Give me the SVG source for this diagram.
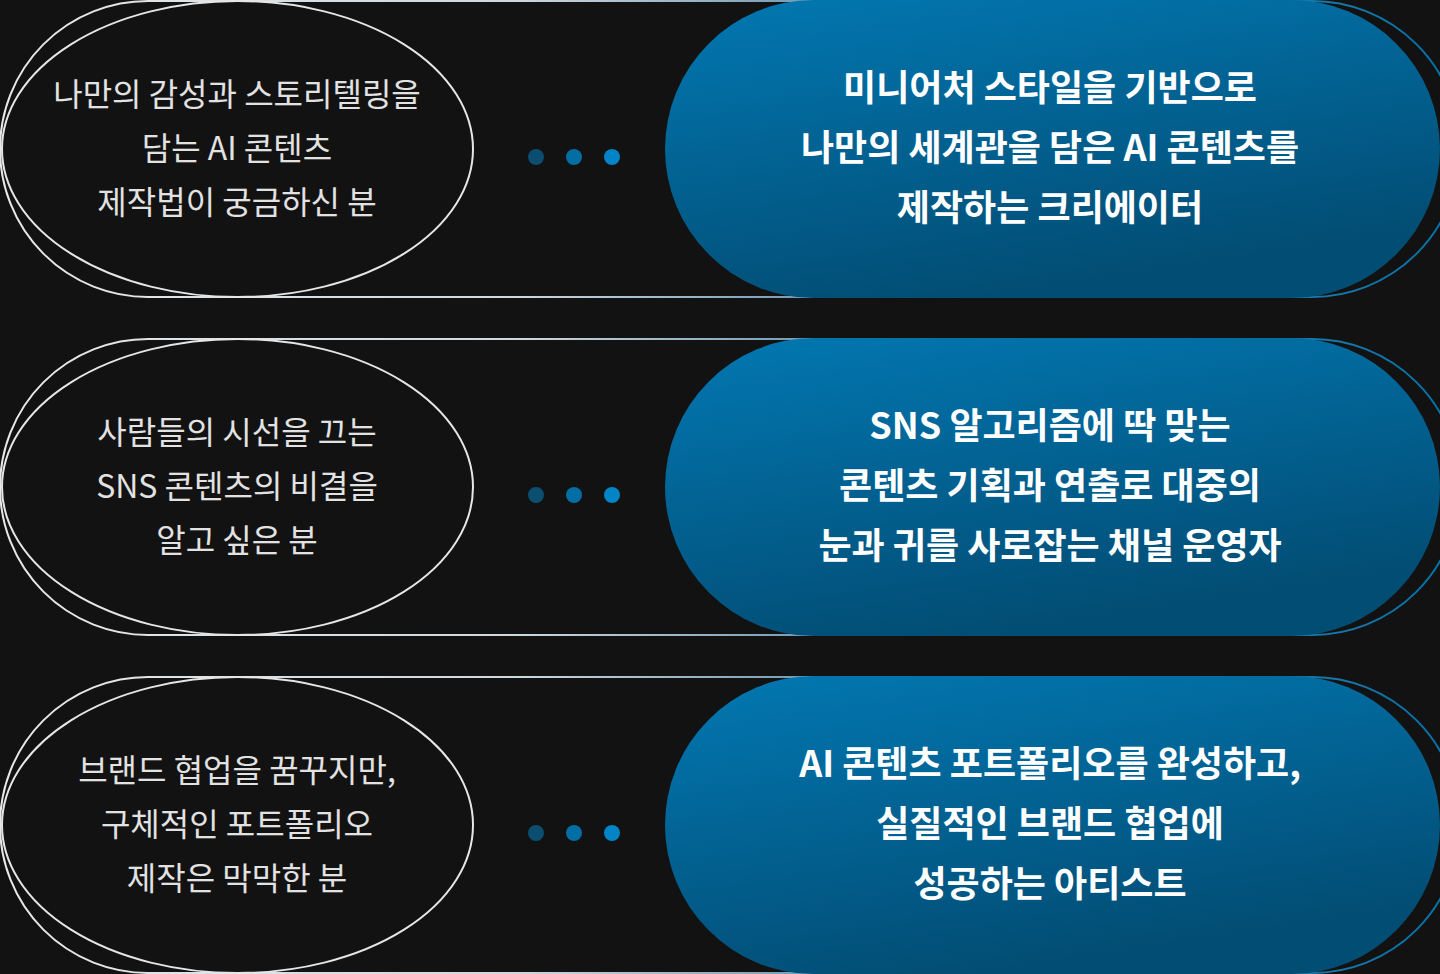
<svg xmlns="http://www.w3.org/2000/svg" width="1440" height="974" viewBox="0 0 1440 974">
<defs>
<linearGradient id="ln" x1="0" y1="0" x2="1" y2="0"><stop offset="0" stop-color="#e8e8e8"/><stop offset="0.35" stop-color="#cfd8de"/><stop offset="0.6" stop-color="#5f8fab"/><stop offset="1" stop-color="#0270a8"/></linearGradient>
<linearGradient id="bl" x1="0" y1="0" x2="0.4" y2="1"><stop offset="0" stop-color="#0278b2"/><stop offset="1" stop-color="#024d74"/></linearGradient>
<style>
.o{fill:none;stroke:url(#ln);stroke-width:2}
.c{fill:#121212;stroke:#e6e6e6;stroke-width:2}
.p{fill:url(#bl)}
.l{font-family:"Noto Sans CJK KR","Noto Sans",sans-serif;font-size:32px;fill:#e2e2e2;text-anchor:middle}
.r{font-family:"Noto Sans CJK KR","Noto Sans",sans-serif;font-size:36px;font-weight:700;fill:#fff;text-anchor:middle}
</style>
<g id="row">
</g>
</defs>
<rect width="1440" height="974" fill="#121212"/>
<g id="n1">
<rect class="o" x="0" y="1" width="1460" height="296" rx="148"/>
<rect class="c" x="2" y="1" width="471" height="296" rx="236" ry="148"/>
<rect class="p" x="665" y="0" width="775" height="298" rx="149"/>
<text class="l" x="237" y="106">나만의 감성과 스토리텔링을</text>
<text class="l" x="237" y="160">담는 AI 콘텐츠</text>
<text class="l" x="237" y="214">제작법이 궁금하신 분</text>
<text class="r" x="1050" y="101">미니어처 스타일을 기반으로</text>
<text class="r" x="1050" y="161">나만의 세계관을 담은 AI 콘텐츠를</text>
<text class="r" x="1050" y="221">제작하는 크리에이터</text>
</g>
<g id="n2">
<rect class="o" x="0" y="339" width="1460" height="296" rx="148"/>
<rect class="c" x="2" y="339" width="471" height="296" rx="236" ry="148"/>
<rect class="p" x="665" y="338" width="775" height="298" rx="149"/>
<text class="l" x="237" y="444">사람들의 시선을 끄는</text>
<text class="l" x="237" y="498">SNS 콘텐츠의 비결을</text>
<text class="l" x="237" y="552">알고 싶은 분</text>
<text class="r" x="1050" y="439">SNS 알고리즘에 딱 맞는</text>
<text class="r" x="1050" y="499">콘텐츠 기획과 연출로 대중의</text>
<text class="r" x="1050" y="559">눈과 귀를 사로잡는 채널 운영자</text>
</g>
<g id="n3">
<rect class="o" x="0" y="677" width="1460" height="296" rx="148"/>
<rect class="c" x="2" y="677" width="471" height="296" rx="236" ry="148"/>
<rect class="p" x="665" y="676" width="775" height="298" rx="149"/>
<text class="l" x="237" y="782">브랜드 협업을 꿈꾸지만,</text>
<text class="l" x="237" y="836">구체적인 포트폴리오</text>
<text class="l" x="237" y="890">제작은 막막한 분</text>
<text class="r" x="1050" y="777">AI 콘텐츠 포트폴리오를 완성하고,</text>
<text class="r" x="1050" y="837">실질적인 브랜드 협업에</text>
<text class="r" x="1050" y="897">성공하는 아티스트</text>
</g>
<g id="connectors">
<circle cx="536" cy="157" r="8" fill="#0b4e70"/><circle cx="574" cy="157" r="8" fill="#036ea4"/><circle cx="612" cy="157" r="8" fill="#0284c7"/>
<circle cx="536" cy="495" r="8" fill="#0b4e70"/><circle cx="574" cy="495" r="8" fill="#036ea4"/><circle cx="612" cy="495" r="8" fill="#0284c7"/>
<circle cx="536" cy="833" r="8" fill="#0b4e70"/><circle cx="574" cy="833" r="8" fill="#036ea4"/><circle cx="612" cy="833" r="8" fill="#0284c7"/>
</g>
</svg>
